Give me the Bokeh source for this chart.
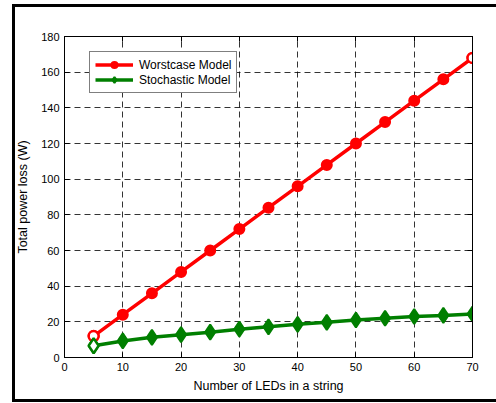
from bokeh.plotting import figure
from bokeh.models import LinearAxis, Legend, LegendItem, Range1d, FixedTicker, InlineStyleSheet
from bokeh.embed import file_html
from bokeh.resources import INLINE

leds = [5, 10, 15, 20, 25, 30, 35, 40, 45, 50, 55, 60, 65, 70]
worstcase = [12, 24, 36, 48, 60, 72, 84, 96, 108, 120, 132, 144, 156, 168]
stochastic = [6.6, 9.3, 11.3, 12.8, 14.2, 15.9, 17.2, 18.6, 19.7, 21.0, 22.0, 23.0, 23.6, 24.4]
x_ticks = [0, 10, 20, 30, 40, 50, 60, 70]
y_ticks = [0, 20, 40, 60, 80, 100, 120, 140, 160, 180]

FONT = "Liberation Sans"
RED = "#ff0000"
GREEN = "#007f00"

p = figure(width=496, height=403, output_backend="svg", toolbar_location=None,
           x_range=Range1d(0, 70), y_range=Range1d(0, 180),
           min_border_left=64, min_border_top=36, min_border_right=24, min_border_bottom=46,
           x_axis_label="Number of LEDs in a string", y_axis_label="Total power loss (W)")
# outer figure border drawn as a CSS background behind a transparent canvas
p.border_fill_alpha = 0
p.stylesheets = [InlineStyleSheet(css=(
    ":host { background: "
    "linear-gradient(#000,#000) 12px 4px / 3px 398px no-repeat, "
    "linear-gradient(#000,#000) 12px 4px / 484px 3px no-repeat, "
    "linear-gradient(#000,#000) 12px 399px / 484px 3px no-repeat, #fff; }"))]
p.outline_line_color = "black"
p.outline_line_width = 1
p.outline_line_alpha = 1

for ax in (p.xaxis[0], p.yaxis[0]):
    ax.major_label_text_font = FONT
    ax.major_label_text_font_size = "11px"
    ax.major_label_text_color = "black"
    ax.axis_label_text_font = FONT
    ax.axis_label_text_font_size = "12.5px"
    ax.axis_label_text_font_style = "normal"
    ax.axis_label_text_color = "black"
    ax.major_tick_in = 5
    ax.major_tick_out = 0
    ax.minor_tick_in = 0
    ax.minor_tick_out = 0
    ax.axis_line_color = "black"
    ax.major_tick_line_color = "black"
p.xaxis[0].ticker = FixedTicker(ticks=x_ticks)
p.yaxis[0].ticker = FixedTicker(ticks=y_ticks)
p.xaxis[0].major_label_standoff = 5
p.xaxis[0].axis_label_standoff = 5
p.yaxis[0].major_label_standoff = 5
p.yaxis[0].axis_label_standoff = 8

for loc, ticks in (("right", y_ticks), ("above", x_ticks)):
    ax = LinearAxis(ticker=FixedTicker(ticks=ticks),
                    major_label_overrides={t: "" for t in ticks})
    ax.major_tick_in = 5
    ax.major_tick_out = 0
    ax.minor_tick_in = 0
    ax.minor_tick_out = 0
    ax.major_label_standoff = 0
    ax.axis_line_color = "black"
    ax.major_tick_line_color = "black"
    p.add_layout(ax, loc)

for g in (p.xgrid[0], p.ygrid[0]):
    g.grid_line_color = "black"
    g.grid_line_alpha = 0.8
    g.grid_line_dash = "6 4"
    g.grid_line_width = 1
p.xgrid[0].ticker = FixedTicker(ticks=x_ticks)
p.ygrid[0].ticker = FixedTicker(ticks=y_ticks)

r1 = p.line(leds, worstcase, line_color=RED, line_width=3.5)
s1 = p.scatter(leds, worstcase, marker="circle", size=10, fill_color=RED, line_color=RED, line_width=2)
r2 = p.line(leds, stochastic, line_color=GREEN, line_width=3.5)
s2 = p.scatter(leds, stochastic, marker="diamond", size=15,
               fill_color=GREEN, line_color=GREEN, line_width=2)

# hollow-looking end markers as in the original rendering
p.scatter([leds[0], leds[-1]], [worstcase[0], worstcase[-1]], marker="circle", size=10,
          fill_color="white", line_color=RED, line_width=2.5)
p.scatter([leds[0]], [stochastic[0]], marker="diamond", size=15,
          fill_color="white", line_color=GREEN, line_width=2.5)

legend = Legend(items=[LegendItem(label="Worstcase Model", renderers=[r1, s1]),
                       LegendItem(label="Stochastic Model", renderers=[r2, s2])],
                location=(25, 264))
legend.label_text_font = FONT
legend.label_text_font_size = "12px"
legend.label_text_color = "black"
legend.border_line_color = "black"
legend.border_line_width = 1
legend.background_fill_color = "white"
legend.background_fill_alpha = 1
legend.padding = 5
legend.spacing = 0
legend.margin = 0
legend.glyph_width = 38
legend.glyph_height = 15
legend.label_height = 15
legend.label_standoff = 6
p.add_layout(legend)

open("out.html", "w").write(file_html(p, INLINE))
